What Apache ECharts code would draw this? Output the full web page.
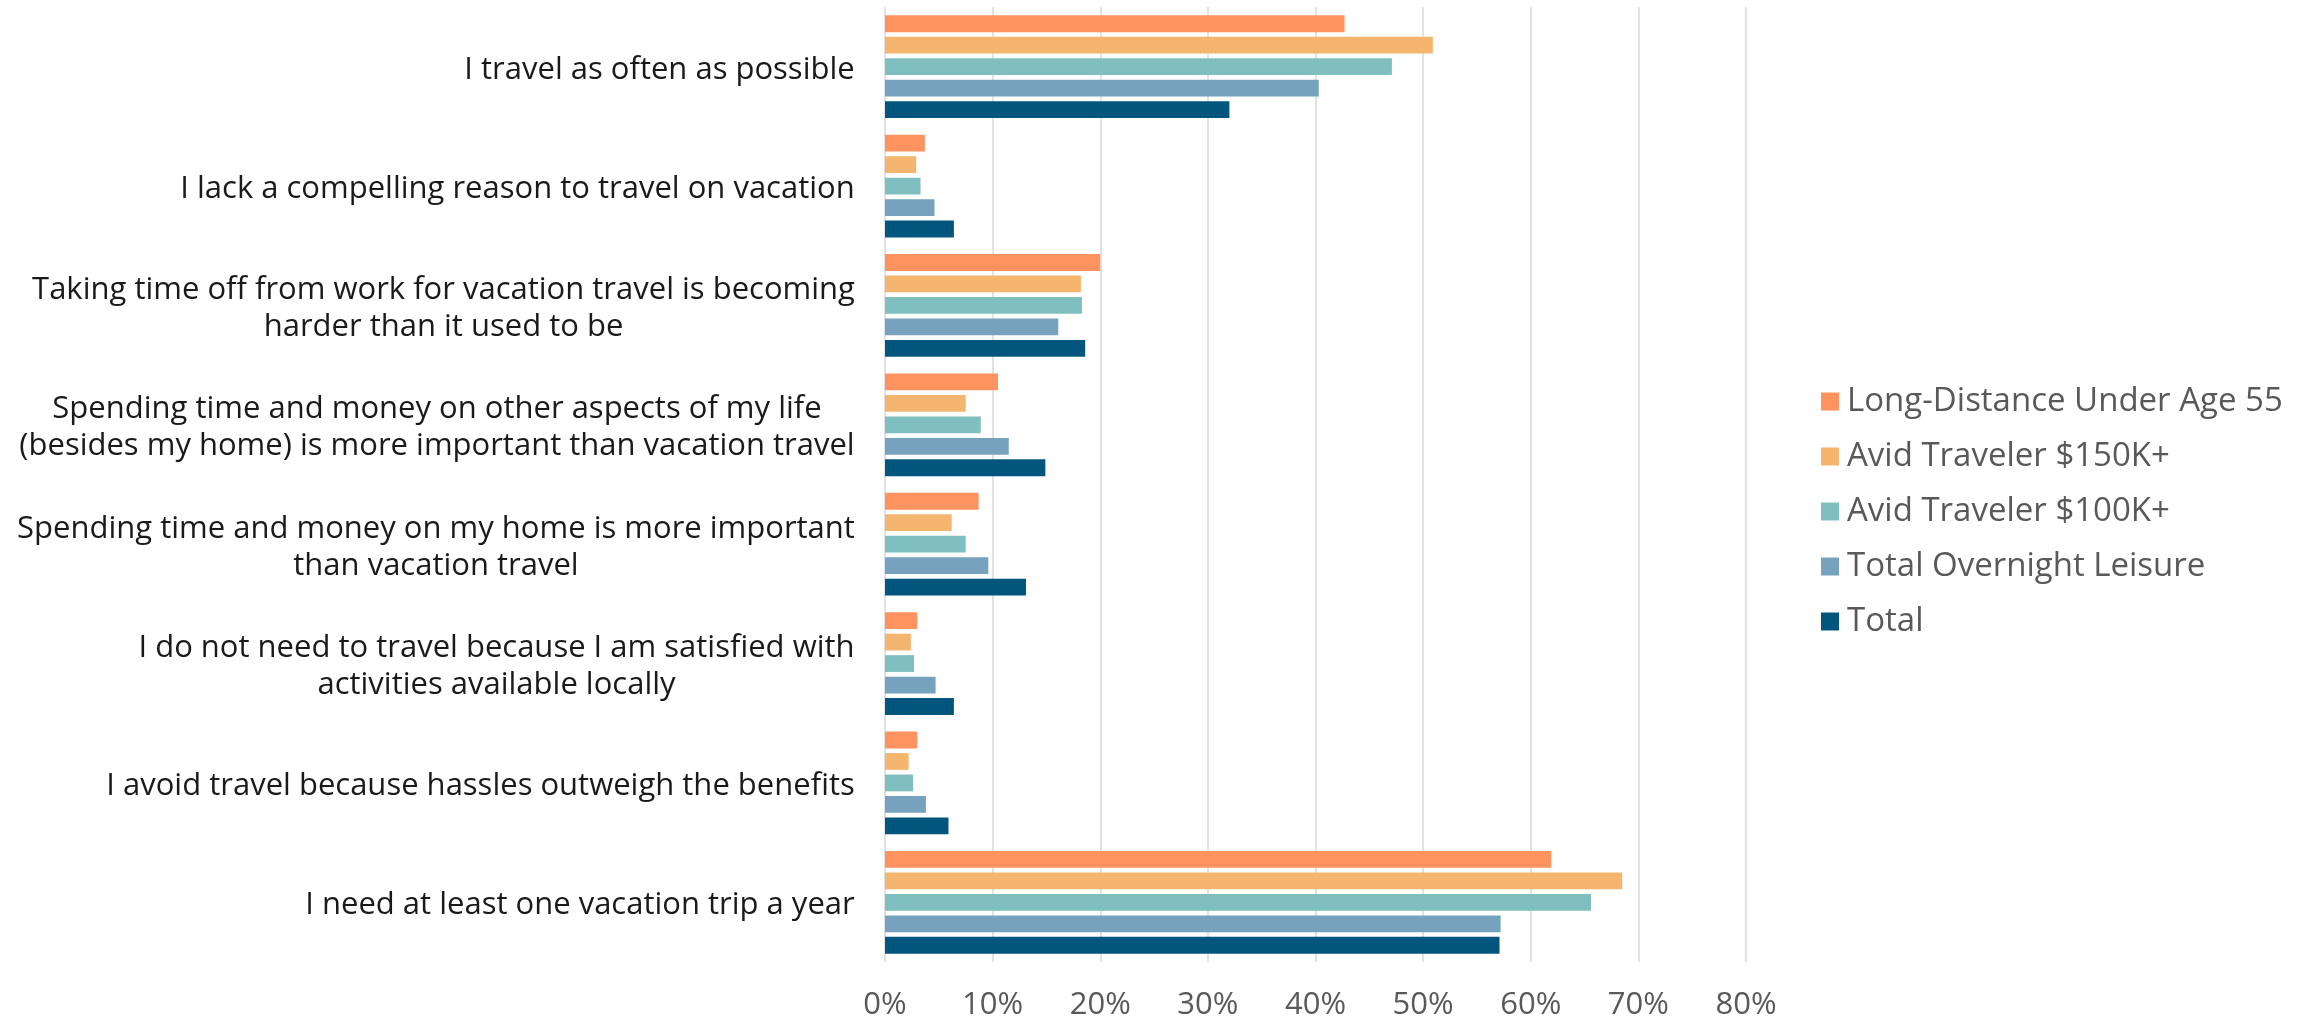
<!DOCTYPE html>
<html>
<head>
<meta charset="utf-8">
<script src="https://cdn.jsdelivr.net/npm/echarts@6/dist/echarts.min.js"></script>
<style>
html,body{margin:0;padding:0;background:#fff;}
#chart{width:2300px;height:1021px;}
</style>
</head>
<body>
<div id="chart"></div>
<script>
const categories = [
  "I travel as often as possible",
  "I lack a compelling reason to travel on vacation",
  "Taking time off from work for vacation travel is becoming\nharder than it used to be",
  "Spending time and money on other aspects of my life\n(besides my home) is more important than vacation travel",
  "Spending time and money on my home is more important\nthan vacation travel",
  "I do not need to travel because I am satisfied with\nactivities available locally",
  "I avoid travel because hassles outweigh the benefits",
  "I need at least one vacation trip a year"
];
const seriesNames = [
  "Long-Distance Under Age 55",
  "Avid Traveler $150K+",
  "Avid Traveler $100K+",
  "Total Overnight Leisure",
  "Total"
];
const longDistance = [42.7, 3.7, 20.0, 10.5, 8.7, 3.0, 3.0, 61.9];
const avid150 = [50.9, 2.9, 18.2, 7.5, 6.2, 2.4, 2.2, 68.5];
const avid100 = [47.1, 3.3, 18.3, 8.9, 7.5, 2.7, 2.6, 65.6];
const overnight = [40.3, 4.6, 16.1, 11.5, 9.6, 4.7, 3.8, 57.2];
const total = [32.0, 6.4, 18.6, 14.9, 13.1, 6.4, 5.9, 57.1];
const xMin = 0, xMax = 80, xStep = 10;

const colors = ['#FF935F', '#F4B66F', '#80BFBF', '#77A2BD', '#02567E'];
const values = [longDistance, avid150, avid100, overnight, total];

const FONT = 'Open Sans';
const LABEL_FS = 31;
const ctx = document.createElement('canvas').getContext('2d');
ctx.font = LABEL_FS + 'px "' + FONT + '"';
const rich = {};
categories.forEach((c, i) => {
  const w = Math.ceil(Math.max(...c.split('\n').map(l => ctx.measureText(l).width)));
  rich['l' + i] = {width: w, align: 'center', fontSize: LABEL_FS, fontFamily: FONT, color: '#1a1a1a', lineHeight: 37};
});

const chart = echarts.init(document.getElementById('chart'));
chart.setOption({
  animation: false,
  color: colors,
  textStyle: {fontFamily: FONT},
  grid: {left: 885, right: 554, top: 7, bottom: 56.5, containLabel: false},
  legend: {
    orient: 'vertical',
    left: 1816,
    top: 380,
    icon: 'rect',
    itemWidth: 18,
    itemHeight: 18,
    itemGap: 22,
    textStyle: {fontSize: 33, color: '#595959', fontFamily: FONT, padding: [0, 0, 0, 3]},
    data: seriesNames
  },
  xAxis: {
    type: 'value',
    min: xMin, max: xMax, interval: xStep,
    axisLine: {show: false},
    axisTick: {show: false},
    axisLabel: {formatter: '{value}%', fontSize: 31, color: '#595959', fontFamily: FONT, margin: 28},
    splitLine: {lineStyle: {color: '#d9d9d9', width: 1.5}}
  },
  yAxis: {
    type: 'category',
    inverse: true,
    data: categories,
    axisLine: {show: false},
    axisTick: {show: false},
    axisLabel: {
      margin: 30,
      fontSize: LABEL_FS,
      fontFamily: FONT,
      color: '#1a1a1a',
      lineHeight: 37,
      padding: [6, 0, 0, 0],
      formatter: (v, i) => v.split('\n').map(l => '{l' + i + '|' + l + '}').join('\n'),
      rich: rich
    }
  },
  series: seriesNames.map((n, k) => ({
    name: n,
    type: 'bar',
    data: values[k],
    barCategoryGap: '14%',
    barGap: '28%',
    itemStyle: {color: colors[k]}
  }))
});
</script>
</body>
</html>
